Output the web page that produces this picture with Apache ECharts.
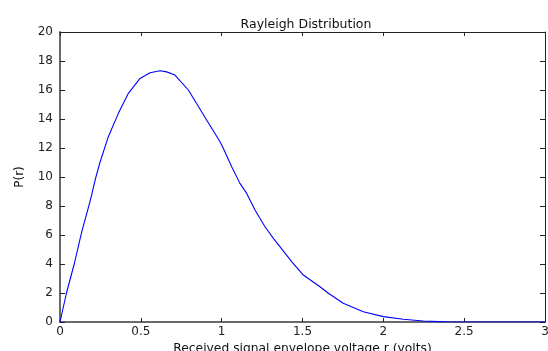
<!DOCTYPE html>
<html>
<head>
<meta charset="utf-8">
<script src="https://cdn.jsdelivr.net/npm/echarts@6/dist/echarts.min.js"></script>
<style>html,body{margin:0;padding:0;background:#fff}#c{width:548px;height:351px}</style>
</head>
<body>
<div id="c"></div>
<script>
var rValues = [0,0.04,0.088,0.134,0.188,0.22,0.247,0.299,0.361,0.423,0.495,0.557,0.619,0.66,0.711,0.794,0.825,0.907,0.99,1.01,1.062,1.113,1.155,1.206,1.268,1.32,1.433,1.505,1.608,1.66,1.752,1.876,2.0,2.124,2.247,2.39,2.6,3.0];
var pValues = [0,2,4,6.2,8.41,9.9,11.0,12.78,14.39,15.77,16.8,17.19,17.33,17.25,17.03,16.0,15.43,13.93,12.43,11.98,10.71,9.56,8.87,7.72,6.57,5.77,4.16,3.24,2.43,1.98,1.29,0.71,0.37,0.19,0.07,0.01,0,0];
var titleText = 'Rayleigh Distribution';
var xLabel = 'Received signal envelope voltage r (volts)';
var yLabel = 'P(r)';

var data = rValues.map(function(r,i){return [r,pValues[i]];});
var font = 'DejaVu Sans, Verdana, sans-serif';
var chart = echarts.init(document.getElementById('c'), null, {renderer:'canvas'});
chart.setOption({
  animation:false,
  backgroundColor:'#fff',
  title:{text:titleText,left:301,top:13,textAlign:'center',textStyle:{fontFamily:font,fontSize:12.5,fontWeight:'normal',color:'#111'}},
  grid:{left:60,right:3,top:32,bottom:29,show:false,containLabel:false,outerBoundsMode:'none'},
  xAxis:[{
    type:'value',min:0,max:3,interval:0.5,position:'bottom',
    name:xLabel,nameLocation:'middle',nameGap:21,
    nameTextStyle:{fontFamily:font,fontSize:12.3,color:'#111'},
    axisLine:{show:true,onZero:false,lineStyle:{color:'#6a6a6a',width:2}},
    axisTick:{show:true,inside:true,length:4,lineStyle:{color:'#222',width:1}},
    axisLabel:{fontFamily:font,fontSize:12,color:'#222',margin:4},
    splitLine:{show:false}
  },{
    type:'value',min:0,max:3,interval:0.5,position:'top',
    axisLine:{show:true,onZero:false,lineStyle:{color:'#222',width:1}},
    axisTick:{show:true,inside:true,length:4,lineStyle:{color:'#222',width:1}},
    axisLabel:{show:false},splitLine:{show:false}
  }],
  yAxis:[{
    type:'value',min:0,max:20,interval:2,position:'left',
    name:yLabel,nameLocation:'middle',nameGap:34,nameRotate:90,
    nameTextStyle:{fontFamily:font,fontSize:12,color:'#111'},
    axisLine:{show:true,onZero:false,lineStyle:{color:'#6a6a6a',width:2}},
    axisTick:{show:true,inside:true,length:5,lineStyle:{color:'#222',width:1}},
    axisLabel:{fontFamily:font,fontSize:12,color:'#222',margin:7},
    splitLine:{show:false}
  },{
    type:'value',min:0,max:20,interval:2,position:'right',
    axisLine:{show:true,onZero:false,lineStyle:{color:'#222',width:1}},
    axisTick:{show:true,inside:true,length:5,lineStyle:{color:'#222',width:1}},
    axisLabel:{show:false},splitLine:{show:false}
  }],
  series:[{
    type:'line',data:data,xAxisIndex:0,yAxisIndex:0,
    showSymbol:false,symbol:'none',smooth:false,
    lineStyle:{color:'#0000ff',width:1.1},
    z:1
  }]
});
</script>
</body>
</html>
